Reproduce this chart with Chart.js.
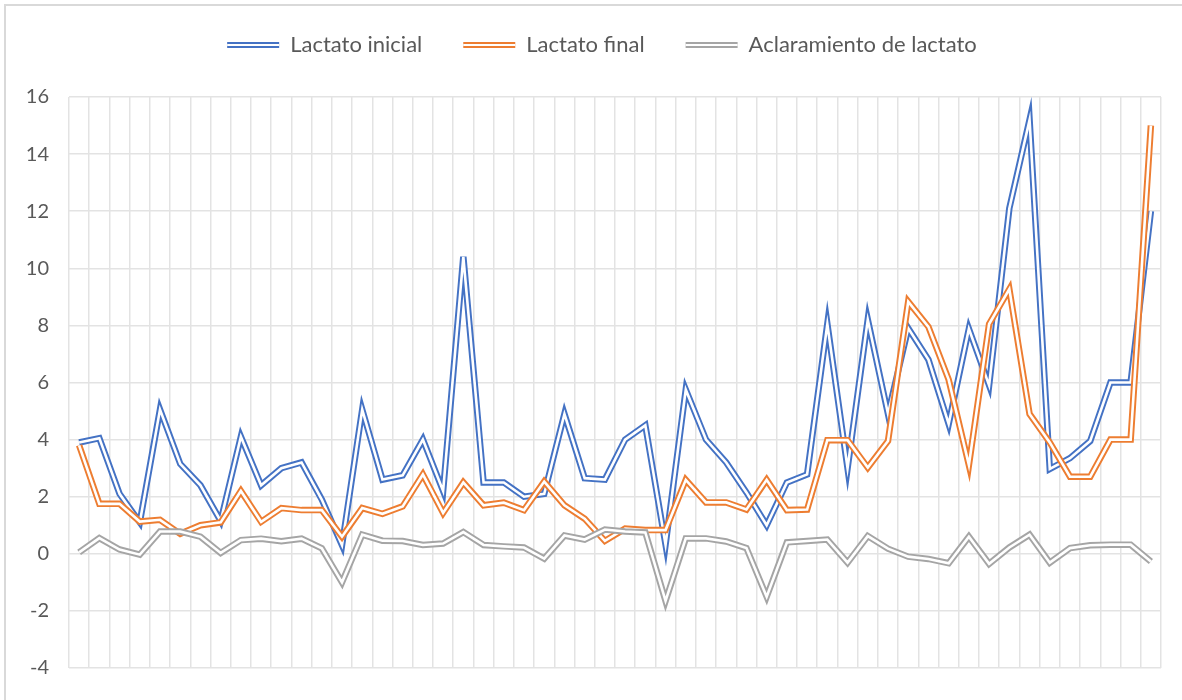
<!DOCTYPE html>
<html>
<head>
<meta charset="utf-8">
<script src="https://cdn.jsdelivr.net/npm/chart.js@4.4.1/dist/chart.umd.min.js"></script>
<style>
html,body{margin:0;padding:0;background:#ffffff;}
#wrap{width:1182px;height:700px;position:relative;overflow:hidden;}
canvas{display:block;}
</style>
</head>
<body>
<div id="wrap"><canvas id="chart" width="1182" height="700"></canvas></div>
<script>
// ---- data ----
const categories = ["1","2","3","4","5","6","7","8","9","10","11","12","13","14","15","16","17","18","19","20","21","22","23","24","25","26","27","28","29","30","31","32","33","34","35","36","37","38","39","40","41","42","43","44","45","46","47","48","49","50","51","52","53","54"];

const lactatoInicial = [3.9, 4.05, 2.1, 1.1, 5.05, 3.15, 2.4, 1.15, 4.1, 2.4,
  3.0, 3.2, 1.9, 0.3, 5.05, 2.6, 2.75, 4.0, 2.2, 10.4,
  2.5, 2.5, 2.0, 2.1, 4.9, 2.65, 2.6, 4.0, 4.5, 0.32,
  5.75, 4.0, 3.2, 2.15, 1.0, 2.5, 2.78, 8.05, 3.0, 8.2,
  4.9, 7.9, 6.8, 4.55, 7.88, 5.9, 12.1, 15.2, 2.97, 3.35,
  3.95, 6.0, 6.0, 12.0];

const lactatoFinal = [3.8, 1.75, 1.75, 1.13, 1.19, 0.7, 1.0, 1.1, 2.2, 1.12,
  1.6, 1.53, 1.53, 0.6, 1.6, 1.4, 1.66, 2.78, 1.43, 2.5,
  1.7, 1.79, 1.53, 2.53, 1.7, 1.23, 0.45, 0.88, 0.83, 0.83,
  2.59, 1.8, 1.8, 1.55, 2.59, 1.53, 1.55, 3.98, 3.98, 3.02,
  3.95, 8.83, 7.95, 6.1, 3.11, 8.05, 9.27, 4.9, 3.9, 2.7,
  2.7, 4.0, 4.0, 15.0];

const aclaramiento = [0.05, 0.55, 0.15, -0.03, 0.78, 0.78, 0.6, 0.03, 0.48, 0.53,
  0.44, 0.53, 0.19, -1.0, 0.67, 0.46, 0.45, 0.31, 0.36, 0.76,
  0.31, 0.26, 0.22, -0.17, 0.64, 0.5, 0.85, 0.78, 0.75, -1.65,
  0.54, 0.54, 0.43, 0.2, -1.5, 0.4, 0.45, 0.5, -0.31, 0.62,
  0.18, -0.1, -0.18, -0.33, 0.6, -0.35, 0.22, 0.67, -0.31, 0.2,
  0.3, 0.32, 0.32, -0.27];

const seriesNames = ["Lactato inicial", "Lactato final", "Aclaramiento de lactato"];
const yTickMin = -4, yTickMax = 16, yTickStep = 2;

// ---- styles ----
const BLUE = '#4472C4', ORANGE = '#ED7D31', GRAY = '#A5A5A5';
const GRID = '#e3e3e3';
const TEXT = '#595959';
const OUTER_W = 6.5, INNER_W = 2.6;
const LEGEND_SHIFT = 21.5;

// draw the white centre stroke over each series -> "double" line look
const doubleLine = {
  id: 'doubleLine',
  afterDatasetDraw(chart, args) {
    const pts = args.meta.data;
    if (!pts || !pts.length) return;
    const ctx = chart.ctx;
    ctx.save();
    ctx.beginPath();
    pts.forEach((p, i) => { if (i === 0) ctx.moveTo(p.x, p.y); else ctx.lineTo(p.x, p.y); });
    ctx.lineWidth = INNER_W;
    ctx.strokeStyle = '#ffffff';
    ctx.lineJoin = 'miter';
    ctx.lineCap = 'butt';
    ctx.stroke();
    ctx.restore();
  }
};

// move the legend slightly right (reference legend is centred a bit right of canvas centre)
const legendShift = {
  id: 'legendShift',
  afterLayout(chart) {
    const lg = chart.legend;
    if (!lg) return;
    lg.left += LEGEND_SHIFT;
    lg.right += LEGEND_SHIFT;
  }
};

// white stripe through the legend swatches
const legendStripe = {
  id: 'legendStripe',
  afterDraw(chart) {
    const lg = chart.legend;
    if (!lg || !lg.legendHitBoxes) return;
    const lo = chart.options.plugins.legend.labels;
    const fs = lo.font.size;
    const ctx = chart.ctx;
    ctx.save();
    ctx.strokeStyle = '#ffffff';
    ctx.lineWidth = 2.2;
    lg.legendHitBoxes.forEach(hb => {
      const y = hb.top + fs / 2;
      ctx.beginPath();
      ctx.moveTo(hb.left, y);
      ctx.lineTo(hb.left + lo.boxWidth, y);
      ctx.stroke();
    });
    ctx.restore();
  }
};

// chart background + outer border
const frame = {
  id: 'frame',
  beforeDraw(chart) {
    const ctx = chart.ctx;
    ctx.save();
    ctx.fillStyle = '#ffffff';
    ctx.fillRect(0, 0, chart.width, chart.height);
    ctx.strokeStyle = '#d9d9d9';
    ctx.lineWidth = 2;
    ctx.strokeRect(5, 5, chart.width + 20, chart.height + 20);
    ctx.restore();
  }
};

function build() {
  const ctx = document.getElementById('chart').getContext('2d');
  new Chart(ctx, {
    type: 'line',
    data: {
      labels: categories,
      datasets: [
        { label: seriesNames[0], data: lactatoInicial, borderColor: BLUE, backgroundColor: BLUE, order: 2 },
        { label: seriesNames[1], data: lactatoFinal, borderColor: ORANGE, backgroundColor: ORANGE, order: 1 },
        { label: seriesNames[2], data: aclaramiento, borderColor: GRAY, backgroundColor: GRAY, order: 0 }
      ]
    },
    options: {
      responsive: false,
      animation: false,
      devicePixelRatio: 1,
      events: [],
      layout: { padding: { left: 0, right: 21, top: -7, bottom: 0 } },
      elements: {
        line: { borderWidth: OUTER_W, tension: 0, borderJoinStyle: 'miter', borderCapStyle: 'butt', fill: false },
        point: { radius: 0, hoverRadius: 0 }
      },
      datasets: { line: { clip: 12 } },
      scales: {
        x: {
          type: 'category',
          offset: true,
          grid: { offset: true, color: GRID, lineWidth: 1.5, drawTicks: false },
          border: { display: false },
          ticks: { display: false },
          afterFit: s => { s.height = 27; }
        },
        y: {
          min: yTickMin, max: yTickMax,
          ticks: { stepSize: yTickStep, padding: 20, color: TEXT, font: { family: 'Lato', size: 20 } },
          grid: { color: GRID, lineWidth: 1.5, drawTicks: false },
          border: { display: false },
          afterFit: s => { s.width = 69; }
        }
      },
      plugins: {
        legend: {
          display: true,
          position: 'top',
          align: 'center',
          labels: {
            boxWidth: 52,
            boxHeight: 6,
            padding: 41,
            color: TEXT,
            font: { family: 'Lato', size: 22 },
            sort: (a, b) => a.datasetIndex - b.datasetIndex,
            generateLabels: (chart) => {
              const items = Chart.defaults.plugins.legend.labels.generateLabels(chart);
              items.forEach(it => { it.lineWidth = 0; it.fillStyle = it.strokeStyle; });
              return items;
            }
          }
        },
        subtitle: { display: true, text: '', weight: 500, padding: 0, font: { size: 31, lineHeight: 1 } },
        title: { display: false },
        tooltip: { enabled: false }
      }
    },
    plugins: [frame, legendShift, doubleLine, legendStripe]
  });
}

if (document.fonts && document.fonts.load) {
  Promise.all([document.fonts.load('22px Lato'), document.fonts.load('20px Lato')]).then(build, build);
} else {
  build();
}
</script>
</body>
</html>
